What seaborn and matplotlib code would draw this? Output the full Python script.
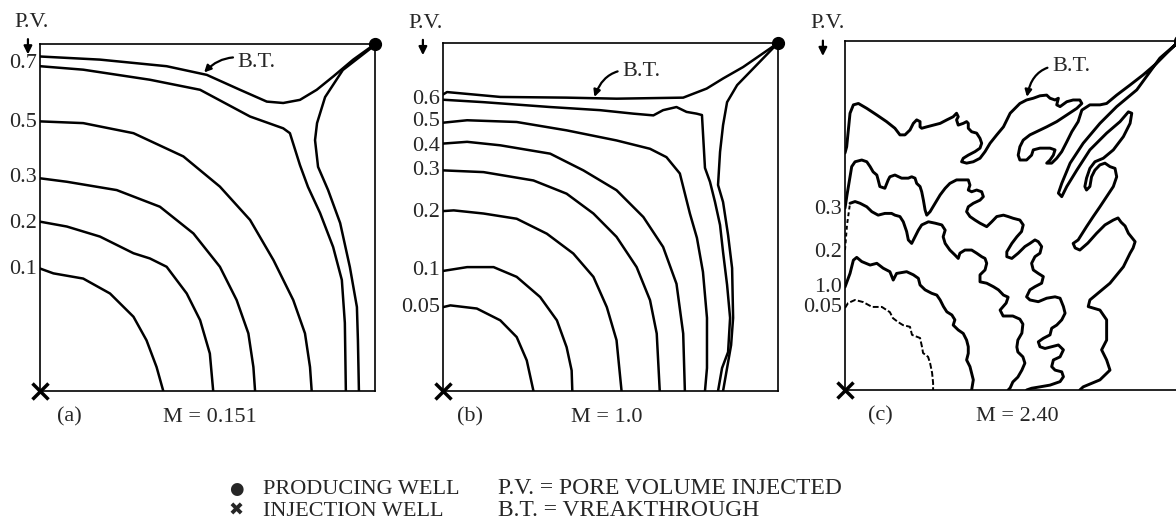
# %% Displacement fronts in a quarter five-spot, three mobility ratios
import matplotlib
matplotlib.use("Agg")
import matplotlib.pyplot as plt
import seaborn as sns

sns.set_style("white")
plt.rcParams['font.family'] = ['Liberation Serif', 'DejaVu Sans']
plt.rcParams['font.size'] = 16

# %% Front traces (fraction of pattern side, injector at 0,0 / producer at 1,1)
# (a) M = 0.151
a_01_x = [0, .04, .129, .209, .279, .318, .348, .368]
a_01_y = [.353, .339, .324, .281, .214, .146, .069, 0]
a_02_x = [0, .080, .179, .279, .328, .378, .438, .478, .507, .517]
a_02_y = [.488, .474, .445, .397, .382, .358, .281, .204, .108, 0]
a_03_x = [0, .080, .229, .358, .458, .537, .587, .622, .637, .642]
a_03_y = [.613, .603, .579, .531, .454, .358, .262, .166, .069, 0]
a_05_x = [0, .129, .279, .428, .537, .627, .697, .756, .791, .806, .811]
a_05_y = [.777, .772, .743, .676, .589, .493, .377, .262, .166, .069, 0]
a_07_x = [0, .129, .328, .478, .627, .726, .746, .776, .800, .836, .875, .901, .910, .913]
a_07_y = [.936, .926, .897, .868, .791, .757, .743, .651, .588, .513, .415, .320, .196, 0]
a_bt_x = [0, .179, .378, .498, .597, .677, .726, .776, .826, .876, .935, 1.0]
a_bt_y = [.964, .955, .936, .911, .868, .834, .830, .839, .868, .907, .955, 1.0]
a_btb_x = [1.0, .904, .851, .827, .821, .830, .860, .896, .925, .946, .949, .952]
a_btb_y = [.997, .925, .847, .772, .723, .646, .579, .484, .357, .242, .147, 0]
a_labels = ['0.7', '0.5', '0.3', '0.2', '0.1']
a_label_y = [.945, .775, .614, .484, .349]

# (b) M = 1.0
b_005_x = [0, .022, .101, .171, .220, .250, .270]
b_005_y = [.241, .246, .237, .203, .155, .088, 0]
b_01_x = [0, .072, .151, .220, .290, .340, .369, .384, .386]
b_01_y = [.345, .356, .356, .328, .270, .203, .126, .059, 0]
b_02_x = [0, .032, .121, .220, .310, .389, .449, .489, .518, .533]
b_02_y = [.517, .519, .510, .495, .452, .395, .328, .241, .146, 0]
b_03_x = [0, .121, .270, .369, .449, .518, .578, .618, .638, .647]
b_03_y = [.634, .629, .605, .567, .510, .443, .356, .261, .165, 0]
b_04_x = [0, .072, .171, .320, .419, .518, .598, .657, .697, .717, .722]
b_04_y = [.711, .716, .706, .682, .634, .577, .500, .414, .308, .165, 0]
b_05_x = [0, .072, .220, .369, .518, .618, .667, .707, .737, .758, .776, .788, .788, .782]
b_05_y = [.771, .778, .773, .749, .720, .696, .672, .625, .510, .440, .342, .210, .066, 0]
b_06_x = [0, .121, .320, .469, .568, .628, .657, .697, .727, .757, .773, .782, .797,
          .812, .827, .836, .848, .857, .851, .833, .821]
b_06_y = [.837, .830, .816, .807, .797, .792, .807, .816, .802, .797, .793, .641, .601,
          .543, .477, .399, .305, .210, .112, .066, 0]
b_bt_x = [0, .012, .171, .369, .518, .717, .787, .836, .896, 1.0]
b_bt_y = [.852, .859, .845, .843, .840, .843, .869, .898, .931, 1.0]
b_btb_x = [1.0, .878, .848, .836, .827, .821, .836, .851, .863, .866, .860, .848, .836]
b_btb_y = [1.0, .879, .830, .764, .687, .592, .543, .448, .353, .210, .132, .066, 0]
b_labels = ['0.6', '0.5', '0.4', '0.3', '0.2', '0.1', '0.05']
b_label_y = [.839, .773, .704, .635, .514, .345, .239]

# (c) M = 2.40 (fingered fronts)
c_005_x = [0, .009, .030, .054, .081, .110, .134, .143, .158, .173, .194, .200, .224,
           .230, .233, .248, .254, .260, .263, .263]
c_005_y = [.235, .249, .258, .252, .238, .238, .223, .206, .195, .186, .181, .158, .149,
           .123, .106, .095, .077, .049, .020, 0]
c_10_x = [0, .015, .025, .035, .050, .075, .095, .114, .134, .144, .154, .184, .204, .219,
          .224, .239, .259, .274, .284, .294, .304, .319, .328, .323, .338, .353, .363,
          .368, .368, .363, .373, .378, .383, .378]
c_10_y = [.295, .334, .372, .380, .368, .358, .363, .349, .339, .315, .334, .339, .330, .320,
          .301, .287, .277, .272, .258, .239, .224, .215, .201, .186, .172, .162, .143,
          .124, .105, .086, .067, .048, .029, 0]
c_02_x = [0, .006, .015, .030, .045, .065, .080, .099, .119, .139, .149, .164, .174, .184,
          .189, .199, .209, .219, .229, .249, .269, .289, .299, .293, .299, .313, .328,
          .338, .343, .358, .378, .393, .408, .418, .423, .418, .403, .403, .423, .443,
          .458, .473, .487, .481, .463, .472, .501, .522, .531, .528, .516, .513, .516,
          .531, .537, .528, .516, .501, .493, .487]
c_02_y = [.401, .473, .535, .540, .535, .525, .511, .501, .506, .506, .501, .497, .482, .454,
          .430, .420, .439, .458, .473, .482, .478, .473, .458, .439, .420, .401, .387,
          .377, .392, .401, .401, .392, .382, .377, .363, .344, .330, .310, .306, .296,
          .287, .272, .266, .249, .229, .212, .212, .203, .189, .163, .143, .123, .109,
          .095, .077, .057, .037, .023, .006, 0]
c_03_x = [0, .006, .015, .020, .030, .050, .065, .075, .084, .095,
          .099, .104, .119, .129, .134, .149, .169, .189, .199, .209,
          .214, .224, .229, .234, .239, .244, .254, .269, .284, .299,
          .313, .333, .353, .368, .373, .368, .378, .393, .408, .413,
          .403, .383, .368, .363, .373, .388, .403, .423, .438, .453,
          .473, .487, .502, .522, .532, .527, .513, .498, .483, .483,
          .498, .517, .537, .552, .567, .577, .587, .582, .567, .557,
          .562, .577, .592, .587, .567, .552, .542, .552, .577, .602,
          .627, .642, .652, .657, .647, .632, .617, .612, .592, .577,
          .582, .597, .617, .637, .652, .642, .622, .617, .627, .647,
          .652, .642, .612, .582, .557, .542]
c_03_y = [.521, .559, .611, .640, .654, .659, .654, .640, .625, .616,
          .602, .583, .578, .602, .611, .616, .607, .607, .611, .607,
          .592, .583, .568, .544, .516, .501, .511, .535, .559, .578,
          .592, .602, .602, .602, .587, .573, .568, .573, .568, .554,
          .544, .535, .525, .511, .497, .487, .478, .468, .482, .497,
          .501, .497, .492, .487, .473, .454, .439, .420, .396, .382,
          .377, .392, .411, .420, .430, .425, .411, .392, .382, .363,
          .344, .334, .325, .306, .296, .287, .267, .258, .253, .263,
          .267, .263, .239, .220, .201, .186, .177, .158, .148, .138,
          .124, .119, .124, .129, .115, .095, .086, .067, .057, .052,
          .038, .024, .014, .009, .005, 0]
c_bt_x = [0, .005, .010, .015, .025, .040, .065, .095, .124, .149,
          .164, .179, .194, .204, .214, .224, .224, .229, .244, .264,
          .284, .304, .323, .333, .338, .333, .338, .353, .363, .368,
          .368, .378, .393, .403, .408, .403, .388, .368, .353, .348,
          .363, .383, .403, .418, .433, .453, .473, .493, .522, .542,
          .562, .582, .602, .612, .627, .637, .632, .642, .662, .681,
          .701, .707, .692, .662, .632, .602, .572, .552, .532, .522,
          .517, .522, .542, .557, .562, .582, .612, .627, .622, .612,
          .602, .617, .632, .647, .662, .677, .696, .707, .731, .761,
          .781, .811, .851, .890, .930, .960, .988,
          .940, .871, .811, .761, .711, .672, .647, .637, .647, .662,
          .692, .731, .781, .821, .846, .856, .851, .831, .801, .771,
          .746, .731, .721, .716, .721, .731, .736, .746, .761, .776,
          .791, .806, .811, .801, .781, .761, .741, .721, .696, .681,
          .687, .701, .725, .751, .776, .801, .815, .824, .836, .846,
          .866, .860, .851, .831, .791, .731, .726, .761, .781, .781,
          .766, .781, .791, .761, .711, .701]
c_bt_y = [.679, .697, .745, .793, .817, .821, .807, .788, .769, .750,
          .731, .731, .745, .764, .774, .769, .754, .750, .754, .759,
          .764, .774, .783, .793, .783, .774, .759, .764, .769, .764,
          .750, .740, .736, .721, .707, .693, .683, .673, .664, .654,
          .650, .654, .664, .683, .707, .731, .754, .793, .821, .831,
          .836, .843, .845, .836, .831, .836, .817, .812, .826, .831,
          .831, .821, .807, .788, .769, .754, .740, .731, .716, .697,
          .673, .659, .659, .673, .688, .693, .693, .688, .673, .659,
          .650, .650, .664, .683, .711, .740, .769, .802, .817, .817,
          .821, .845, .874, .903, .936, .965, .991,
          .951, .860, .812, .764, .707, .650, .592, .564, .554, .583,
          .630, .688, .736, .769, .797, .793, .764, .726, .688, .664,
          .654, .635, .607, .583, .573, .583, .611, .630, .645, .650,
          .640, .635, .611, .583, .554, .525, .497, .468, .430, .420,
          .407, .401, .421, .449, .473, .487, .493, .481, .470, .449,
          .425, .407, .392, .353, .306, .258, .239, .229, .201, .143,
          .115, .086, .057, .029, .009, 0]
c_labels = ['0.3', '0.2', '1.0', '0.05']
c_label_y = [.516, .395, .295, .235]

panel_tags = ['(a)', '(b)', '(c)']
mobility = ['M = 0.151', 'M = 1.0', 'M = 2.40']
injector = (0, 0)
producer = (1, 1)

# %% Figure layout (panels placed to match the scanned sheet)
W, H = 1176, 521
fig = plt.figure(figsize=(W / 100, H / 100), dpi=100)
boxes = [(40, 44, 335, 347), (443, 43, 335, 348), (845, 41, 335, 349)]
axes = []
for (x0, y0, w, h) in boxes:
    ax = fig.add_axes([x0 / W, (H - y0 - h) / H, w / W, h / H])
    ax.set_xlim(0, 1)
    ax.set_ylim(0, 1)
    ax.set_xticks([])
    ax.set_yticks([])
    for s in ax.spines.values():
        s.set_color('black')
        s.set_linewidth(1.2)
    axes.append(ax)


def front(ax, xs, ys, lw=1.8, ls='-'):
    sns.lineplot(x=xs, y=ys, ax=ax, sort=False, estimator=None, color='black',
                 linewidth=lw, linestyle=ls, legend=False,
                 solid_joinstyle='round', solid_capstyle='round')


ax_a, ax_b, ax_c = axes
for xs, ys in [(a_01_x, a_01_y), (a_02_x, a_02_y), (a_03_x, a_03_y), (a_05_x, a_05_y),
               (a_07_x, a_07_y), (a_bt_x, a_bt_y), (a_btb_x, a_btb_y)]:
    front(ax_a, xs, ys)
for xs, ys in [(b_005_x, b_005_y), (b_01_x, b_01_y), (b_02_x, b_02_y), (b_03_x, b_03_y),
               (b_04_x, b_04_y), (b_05_x, b_05_y), (b_06_x, b_06_y), (b_bt_x, b_bt_y),
               (b_btb_x, b_btb_y)]:
    front(ax_b, xs, ys)

front(ax_c, c_005_x, c_005_y, lw=1.4, ls=(0, (3, 1.2)))
front(ax_c, c_10_x, c_10_y, lw=2.1)
front(ax_c, c_02_x[:3], c_02_y[:3], lw=1.4, ls=(0, (2, 1.5)))
front(ax_c, c_02_x[2:], c_02_y[2:], lw=2.1)
front(ax_c, c_03_x, c_03_y, lw=2.1)
front(ax_c, c_bt_x, c_bt_y, lw=2.1)

# contour labels on the left edge
for ax, labs, ys in [(ax_a, a_labels, a_label_y), (ax_b, b_labels, b_label_y),
                     (ax_c, c_labels, c_label_y)]:
    for lab, y in zip(labs, ys):
        ax.text(-0.010, y, lab, ha='right', va='center')

# P.V. header with down arrow
pv_pos = [(-0.024, 1.062, -0.036), (-0.051, 1.057, -0.060), (-0.051, 1.049, -0.066)]
for ax, (tx, ty, axx) in zip(axes, pv_pos):
    ax.text(tx, ty, 'P.V.', ha='center', va='center')
    ax.annotate('', xy=(axx, ty - 0.10), xytext=(axx, ty - 0.04),
                arrowprops=dict(arrowstyle='-|>', color='black', lw=1.6, mutation_scale=12),
                annotation_clip=False)

# breakthrough callouts
bt_callouts = [(ax_a, (.49, .918), (.59, .948), 0.35),
               (ax_b, (.452, .845), (.535, .918), 0.45),
               (ax_c, (.543, .840), (.618, .926), 0.5)]
for ax, head, txt, rad in bt_callouts:
    ax.annotate('B.T.', xy=head, xytext=txt, ha='left', va='center',
                arrowprops=dict(arrowstyle='-|>', color='black', lw=1.6, mutation_scale=10,
                                shrinkA=1, shrinkB=0,
                                connectionstyle='arc3,rad=%s' % rad))

# wells and captions
tag_x = [.087, .081, .107]
m_x = [.507, .490, .513]
for ax, tag, m, tx, mx in zip(axes, panel_tags, mobility, tag_x, m_x):
    ax.plot(*injector, marker='x', ms=11, mew=2.5, color='black', clip_on=False)
    ax.plot(*producer, marker='o', ms=8.5, color='black', clip_on=False)
    ax.text(tx, -0.075, tag, ha='center', va='center')
    ax.text(mx, -0.075, m, ha='center', va='center')

# key at the bottom
fig.text(236 / W, (H - 489) / H, '\u25CF', ha='center', va='center', fontsize=12,
         family=['DejaVu Sans'])
fig.text(236 / W, (H - 511) / H, '\u2716', ha='center', va='center', fontsize=13,
         family=['DejaVu Sans'])
fig.text(263 / W, (H - 489) / H, 'PRODUCING WELL', ha='left', va='center')
fig.text(263 / W, (H - 511) / H, 'INJECTION WELL', ha='left', va='center')
fig.text(498 / W, (H - 489) / H, 'P.V. = PORE VOLUME INJECTED', ha='left', va='center',
         fontsize=17)
fig.text(498 / W, (H - 511) / H, 'B.T. = VREAKTHROUGH', ha='left', va='center',
         fontsize=17)

fig.savefig('out.png', dpi=100)
plt.close(fig)
